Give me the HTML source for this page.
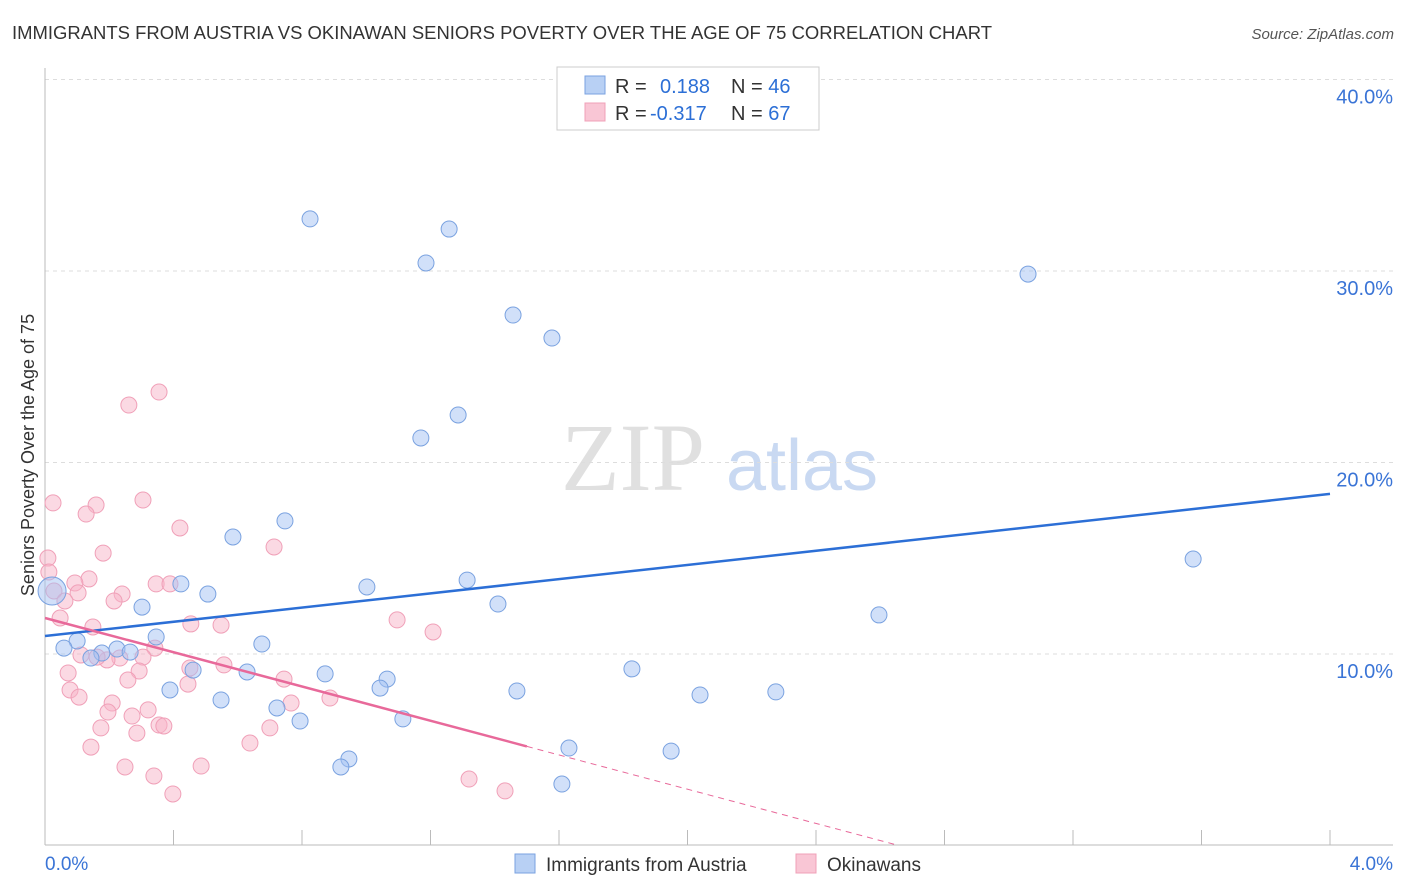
<!DOCTYPE html>
<html><head><meta charset="utf-8"><style>
body{margin:0;background:#fff;font-family:"Liberation Sans",sans-serif}
svg{display:block}
</style></head><body>
<svg id="c" width="1406" height="892" xmlns="http://www.w3.org/2000/svg">
<text x="12" y="39" font-size="18" fill="#333" textLength="980" lengthAdjust="spacingAndGlyphs">IMMIGRANTS FROM AUSTRIA VS OKINAWAN SENIORS POVERTY OVER THE AGE OF 75 CORRELATION CHART</text>
<text x="1394" y="39" font-size="15" fill="#555" font-style="italic" text-anchor="end">Source: ZipAtlas.com</text>
<g>
<text x="633" y="490" font-size="96" font-family="Liberation Serif,serif" fill="#e0e0e0" text-anchor="middle">ZIP</text>
<text x="802" y="490" font-size="72" fill="#c9d9f2" text-anchor="middle">atlas</text>
</g>
<g id="grid"></g><g id="marks"></g>
<text transform="translate(34,455) rotate(-90)" font-size="18" fill="#333" text-anchor="middle">Seniors Poverty Over the Age of 75</text>
<g>
<rect x="557" y="67" width="262" height="63" fill="#fff" stroke="#ccc"/>
<rect x="585" y="76" width="20" height="18" fill="#b8d0f4" stroke="#7aa2e0"/>
<rect x="585" y="103" width="20" height="18" fill="#f9c6d5" stroke="#f0a0b8"/>
<text x="615" y="93" font-size="20" fill="#333">R = <tspan fill="#2c6fd6" x="660">0.188</tspan><tspan x="731" fill="#333">N = </tspan><tspan fill="#2c6fd6">46</tspan></text>
<text x="615" y="120" font-size="20" fill="#333">R = <tspan fill="#2c6fd6" x="650">-0.317</tspan><tspan x="731" fill="#333">N = </tspan><tspan fill="#2c6fd6">67</tspan></text>
</g>
<g>
<rect x="515" y="854" width="20" height="19" fill="#b8d0f4" stroke="#7aa2e0"/>
<text x="546" y="871" font-size="19" fill="#333">Immigrants from Austria</text>
<rect x="796" y="854" width="20" height="19" fill="#f9c6d5" stroke="#f0a0b8"/>
<text x="827" y="871" font-size="19" fill="#333">Okinawans</text>
</g>
</svg>
<script>
const blueX=[0.825,1.258,1.186,3.060,1.457,1.578,1.286,1.170,0.747,0.585,3.574,1.314,1.002,0.423,0.507,1.410,0.302,2.596,0.346,0.675,0.100,0.059,0.224,0.265,0.177,0.143,0.461,0.629,0.872,1.827,1.065,1.043,0.389,1.469,2.039,2.275,0.548,0.722,1.114,0.794,0.946,0.921,1.631,1.949,1.609,0.022];
const blueY=[32.72,32.19,30.42,29.84,27.70,26.50,22.48,21.28,16.95,16.11,14.96,13.86,13.50,13.66,13.13,12.61,12.45,12.04,10.89,10.52,10.68,10.31,10.26,10.10,10.05,9.79,9.16,9.06,8.96,9.22,8.69,8.22,8.12,8.07,7.86,8.02,7.60,7.18,6.61,6.50,4.52,4.10,5.09,4.93,3.21,13.29];
const pinkX=[0.355,0.261,0.025,0.305,0.159,0.128,0.420,0.713,0.009,0.181,0.012,0.137,0.093,0.346,0.389,0.240,0.103,0.215,0.028,0.062,0.454,0.548,1.096,1.208,0.149,0.047,0.342,0.112,0.233,0.193,0.305,0.162,0.557,0.451,0.072,0.744,0.293,0.258,0.445,0.078,0.106,0.766,0.887,0.209,0.196,0.321,0.271,0.355,0.370,0.174,0.286,0.700,0.638,0.143,0.249,0.339,0.486,0.398,1.320,1.432];
const pinkY=[23.68,23.00,17.89,18.04,17.78,17.31,16.58,15.59,15.01,15.27,14.28,13.92,13.71,13.66,13.66,13.13,13.19,12.77,13.29,12.77,11.57,11.51,11.78,11.15,11.41,11.88,10.31,9.95,9.79,9.69,9.84,9.84,9.43,9.27,9.01,8.69,9.11,8.64,8.43,8.12,7.75,7.44,7.70,7.44,6.97,7.08,6.76,6.29,6.24,6.14,5.87,6.14,5.35,5.14,4.10,3.63,4.15,2.69,3.47,2.85];
const blueTrend=[10.94,18.36];
const pinkTrend=[11.88,-4.47];
const yTicks=[10,20,30,40];
const yTickLabels=["10.0%","20.0%","30.0%","40.0%"];
const xLabels=["0.0%","4.0%"];
const NS="http://www.w3.org/2000/svg";
const X=v=>45+v*321.25, Y=v=>845.5-v*19.15;
function mk(t,a,p){const e=document.createElementNS(NS,t);for(const k in a)e.setAttribute(k,a[k]);p.appendChild(e);return e;}
const g=document.getElementById('grid'), m=document.getElementById('marks');
yTicks.forEach((t,i)=>{
 const l=mk('line',{x1:45,x2:1393,y1:Y(t),y2:Y(t),stroke:'#ddd','stroke-dasharray':'4,4'},g);
 
 
 const tx=mk('text',{x:1393,y:Y(t)+24,'font-size':20,fill:'#3a74d6','text-anchor':'end'},g);tx.textContent=yTickLabels[i];
 
 
});
const ax=mk('line',{x1:45,x2:1393,y1:845,y2:845,stroke:'#bbb'},g);


const ay=mk('line',{x1:45,x2:45,y1:68,y2:845,stroke:'#bbb'},g);


for(let i=1;i<=10;i++){const t=mk('line',{x1:X(i*0.4),x2:X(i*0.4),y1:830,y2:845,stroke:'#bbb'},g);
 
 }
const xl0=mk('text',{x:45,y:870,'font-size':19,fill:'#3a74d6'},g);xl0.textContent=xLabels[0];


const xl1=mk('text',{x:1393,y:870,'font-size':19,fill:'#3a74d6','text-anchor':'end'},g);xl1.textContent=xLabels[1];


pinkX.forEach((x,i)=>{const c=mk('circle',{cx:X(x),cy:Y(pinkY[i]),r:8,fill:'rgba(248,180,200,0.5)',stroke:'#f0a0b8','stroke-width':1},m);
 
 });
blueX.forEach((x,i)=>{const c=mk('circle',{cx:X(x),cy:Y(blueY[i]),r:i==blueX.length-1?14:8,fill:'rgba(164,194,244,0.5)',stroke:'#7aa2e0','stroke-width':1},m);
 
 });
const bl=mk('line',{x1:X(0),y1:Y(blueTrend[0]),x2:X(4),y2:Y(blueTrend[1]),stroke:'#2c6fd6','stroke-width':2.5},m);


const pf=x=>pinkTrend[0]+pinkTrend[1]*x;
const pl=mk('line',{x1:X(0),y1:Y(pf(0)),x2:X(1.5),y2:Y(pf(1.5)),stroke:'#e8699a','stroke-width':2.5},m);


const pd=mk('line',{x1:X(1.5),y1:Y(pf(1.5)),x2:X(2.65),y2:Y(pf(2.65)),stroke:'#e8699a','stroke-width':1,'stroke-dasharray':'6,5'},m);


</script>
</body></html>
